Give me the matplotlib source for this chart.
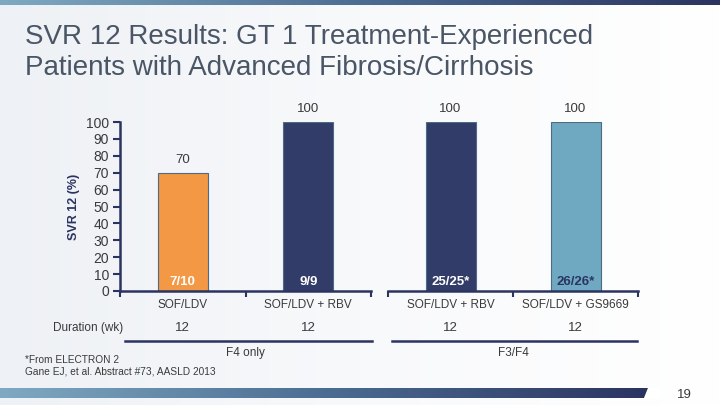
import numpy as np
import matplotlib
matplotlib.use("Agg")
import matplotlib.pyplot as plt
from matplotlib.colors import LinearSegmentedColormap

plt.rcParams['font.family'] = ['Liberation Sans', 'DejaVu Sans']

# === Dati ===
regimens_f4 = ["SOF/LDV", "SOF/LDV + RBV"]
svr_f4 = [70, 100]
counts_f4 = ["7/10", "9/9"]
weeks_f4 = ["12", "12"]

regimens_f3f4 = ["SOF/LDV + RBV", "SOF/LDV + GS9669"]
svr_f3f4 = [100, 100]
counts_f3f4 = ["25/25*", "26/26*"]
weeks_f3f4 = ["12", "12"]

yticks = list(range(0, 101, 10))

W, H = 720, 405
fig = plt.figure(figsize=(7.2, 4.05), dpi=100)

# === Sfondo e bande ===
bg = fig.add_axes([0, 0, 1, 1], zorder=-10)
bg.set_axis_off()
grad = np.linspace(0, 1, 256).reshape(1, -1)
bg_cmap = LinearSegmentedColormap.from_list("bg", ["#eef1f5", "#f8f9fb", "#ffffff"])
bg.imshow(grad, cmap=bg_cmap, aspect="auto", extent=[0, W, H, 0])
band_cmap = LinearSegmentedColormap.from_list("band", ["#7fa9c2", "#4c6d92", "#2b3461"])
bg.imshow(grad, cmap=band_cmap, aspect="auto", extent=[0, W, 5, 0])
bg.imshow(grad, cmap=band_cmap, aspect="auto", extent=[0, 648, 398, 388])
bg.fill([648, 660, 660, 644], [388, 388, 398, 398], color="white")
bg.set_xlim(0, W)
bg.set_ylim(H, 0)

fig.text(25 / W, 1 - 37 / H, "SVR 12 Results: GT 1 Treatment-Experienced",
         fontsize=20, color="#4a5666", va="center")
fig.text(25 / W, 1 - 68 / H, "Patients with Advanced Fibrosis/Cirrhosis",
         fontsize=20, color="#4a5666", va="center")

txt = "#3a3a3a"


def panel(left_px, right_px, cats, vals, counts, colors, count_colors, show_y):
    ax = fig.add_axes([left_px / W, 1 - 291 / H, (right_px - left_px) / W, 169 / H])
    ax.patch.set_alpha(0)
    x = np.arange(len(cats))
    ax.bar(x, vals, width=0.4, color=colors, edgecolor="#4d6a86", linewidth=0.8)
    for xi, v, c, cc in zip(x, vals, counts, count_colors):
        ax.text(xi, v + 4, f"{v}", ha="center", va="bottom", fontsize=9.5, color=txt)
        ax.text(xi, 2, c, ha="center", va="bottom", fontsize=9.5, color=cc, fontweight="bold")
    ax.set_xlim(-0.5, len(cats) - 0.5)
    ax.set_ylim(0, 100)
    ax.set_xticks([-0.5, 0.5, 1.5])
    ax.set_xticklabels([])
    ax.tick_params(axis="x", direction="out", length=4, width=1.5, color="#2b3461")
    for s in ["top", "right"]:
        ax.spines[s].set_visible(False)
    ax.spines["bottom"].set_linewidth(1.8)
    ax.spines["bottom"].set_color("#2b3461")
    if show_y:
        ax.set_yticks(yticks)
        ax.tick_params(axis="y", direction="out", length=5, width=1.5, color="#2b3461",
                       labelsize=10, labelcolor=txt, pad=3)
        ax.spines["left"].set_linewidth(1.8)
        ax.spines["left"].set_color("#2b3461")
        ax.set_ylabel("SVR 12 (%)", fontsize=9, fontweight="bold", color="#2b3461", labelpad=4)
    else:
        ax.spines["left"].set_visible(False)
        ax.set_yticks([])
    for xi, c in zip(x, cats):
        ax.text(xi, -5, c, ha="center", va="top", fontsize=8.5, color=txt)
    return ax


ax1 = panel(120, 371, regimens_f4, svr_f4, counts_f4,
            ["#f39845", "#323c68"], ["white", "white"], True)
ax2 = panel(388, 638, regimens_f3f4, svr_f3f4, counts_f3f4,
            ["#323c68", "#6fa9c1"], ["white", "#2b3461"], False)

# Durata e gruppi
fig.text(123 / W, 1 - 328 / H, "Duration (wk)", ha="right", va="center", fontsize=8.5, color=txt)
for ax, weeks in [(ax1, weeks_f4), (ax2, weeks_f3f4)]:
    for xi, w in enumerate(weeks):
        ax.text(xi, -22, w, ha="center", va="center", fontsize=9.5, color=txt)

bg.plot([125, 372], [341, 341], color="#2b3461", lw=1.8)
bg.plot([392, 637], [341, 341], color="#2b3461", lw=1.8)
bg.text(245, 353, "F4 only", ha="center", va="center", fontsize=8.5, color=txt)
bg.text(513, 353, "F3/F4", ha="center", va="center", fontsize=8.5, color=txt)

bg.text(25, 360, "*From ELECTRON 2", ha="left", va="center", fontsize=7.3, color=txt)
bg.text(25, 372, "Gane EJ, et al. Abstract #73, AASLD 2013", ha="left", va="center",
        fontsize=7.3, color=txt)
bg.text(684, 395, "19", ha="center", va="center", fontsize=9.5, color=txt)

fig.savefig("out.png", dpi=100)
